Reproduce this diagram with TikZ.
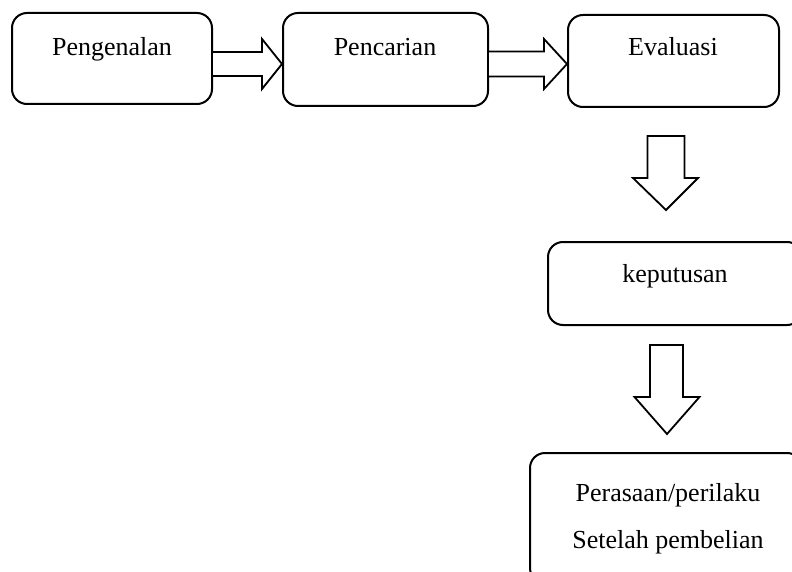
\documentclass[tikz,border=0pt]{standalone}
\usepackage{fontspec}
\setmainfont{Liberation Serif}
\usetikzlibrary{calc}

\tikzset{
  stage/.style={draw=black, line width=2pt, rounded corners=15pt, fill=white,
    inner sep=0pt},
  caption/.style={font=\fontsize{26}{30}\selectfont, inner sep=0pt, anchor=base},
  blockarrow/.style={draw=black, line width=1.8pt, fill=white, line join=miter},
}

\begin{document}
\begin{tikzpicture}[x=1pt, y=-1pt]
  \useasboundingbox (0,0) rectangle (792,572);
  \clip (0,0) rectangle (792,572);

  % stage boxes
  \node[stage] (b1) at (112,58.5) [minimum width=200pt, minimum height=91pt] {};
  \node[stage] (b2) at (385.5,59.5) [minimum width=205pt, minimum height=93pt] {};
  \node[stage] (b3) at (673.5,61) [minimum width=211pt, minimum height=92pt] {};
  \node[stage] (b4) at (675,283.5) [minimum width=254pt, minimum height=83pt] {};
  \node[stage] (b5) at (666,518) [minimum width=272pt, minimum height=130pt] {};

  % captions
  \node[caption] (t1) at (112,56) {Pengenalan};
  \node[caption] (t2) at (385,56) {Pencarian};
  \node[caption] (t3) at (673,56) {Evaluasi};
  \node[caption] (t4) at (675,282) {keputusan};
  \node[caption] (t5a) at (668,501) {Perasaan/perilaku};
  \node[caption] (t5b) at (668,548) {Setelah pembelian};

  % hollow block arrows between the stages
  \coordinate (h1s) at (b1.east |- 0,64);
  \coordinate (h1e) at (b2.west |- 0,64);
  \draw[blockarrow] ($(h1s)+(0,-12)$) -- ($(h1e)+(-20,-12)$) -- ($(h1e)+(-20,-25)$)
    -- (h1e) -- ($(h1e)+(-20,25)$) -- ($(h1e)+(-20,12)$) -- ($(h1s)+(0,12)$);

  \coordinate (h2s) at (b2.east |- 0,64);
  \coordinate (h2e) at (b3.west |- 0,64);
  \draw[blockarrow] ($(h2s)+(0,-12.5)$) -- ($(h2e)+(-23,-12.5)$) -- ($(h2e)+(-23,-25)$)
    -- (h2e) -- ($(h2e)+(-23,25)$) -- ($(h2e)+(-23,12.5)$) -- ($(h2s)+(0,12.5)$);

  \coordinate (v1s) at (666,136);
  \coordinate (v1e) at (666,210);
  \draw[blockarrow] ($(v1s)+(-18.5,0)$) -- ($(v1e)+(-18.5,-32)$) -- ($(v1e)+(-33,-32)$)
    -- (v1e) -- ($(v1e)+(32,-32)$) -- ($(v1e)+(18.5,-32)$) -- ($(v1s)+(18.5,0)$) -- cycle;

  \coordinate (v2s) at (667,345);
  \coordinate (v2e) at (667,434);
  \draw[blockarrow] ($(v2s)+(-17,0)$) -- ($(v2e)+(-17,-37)$) -- ($(v2e)+(-32.5,-37)$)
    -- (v2e) -- ($(v2e)+(32.5,-37)$) -- ($(v2e)+(16,-37)$) -- ($(v2s)+(16,0)$) -- cycle;
\end{tikzpicture}
\end{document}
